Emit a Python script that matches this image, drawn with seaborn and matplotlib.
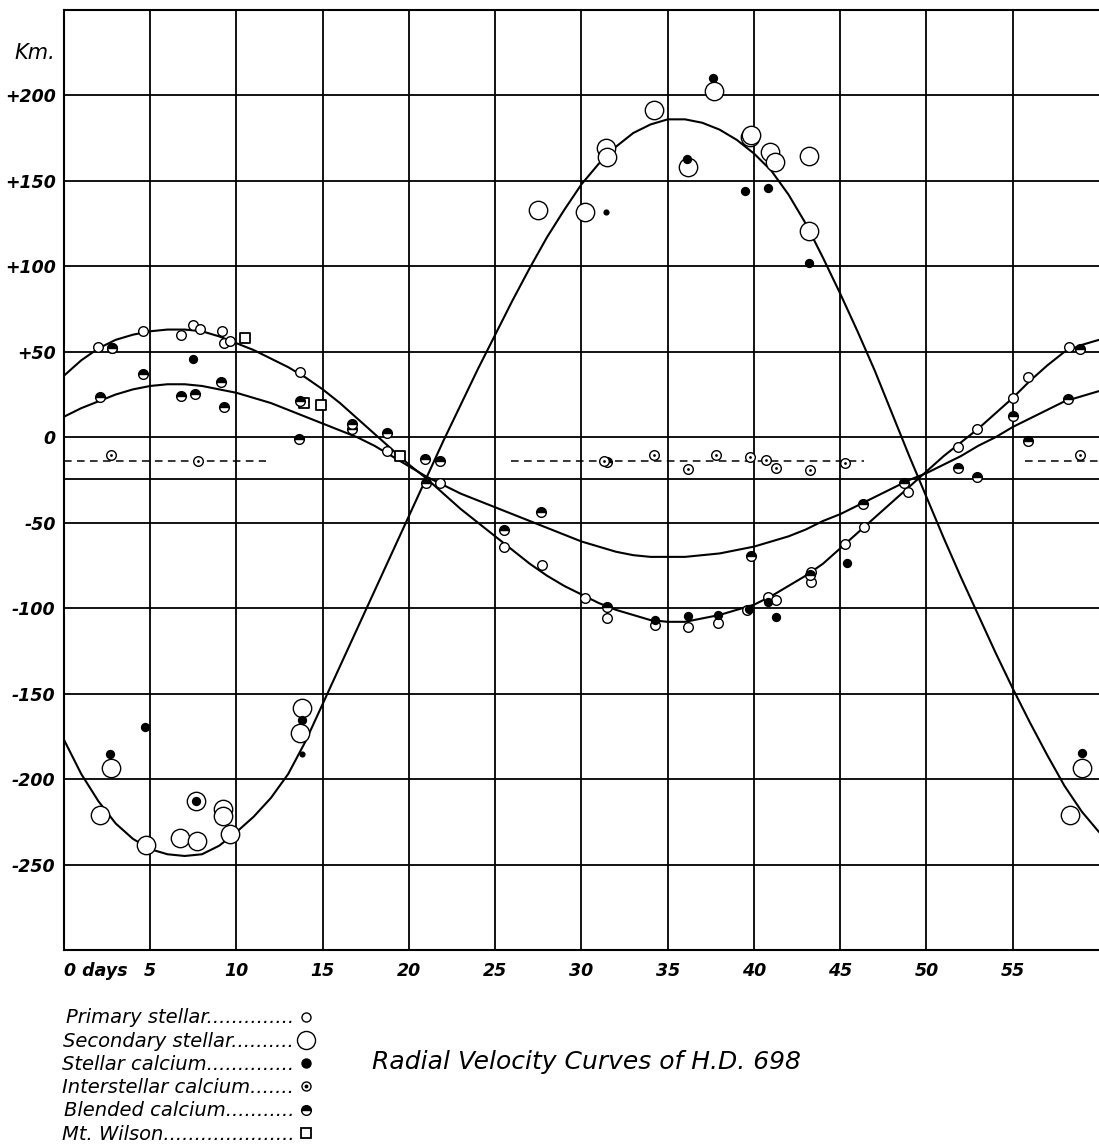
import numpy as np
import pandas as pd
import seaborn as sns
import matplotlib.pyplot as plt
from matplotlib.lines import Line2D

# fitted orbit curves at one-day steps
curve_days = list(range(0, 61))
secondary_curve = [-177, -197, -213, -226, -235, -241, -244, -245, -244, -239,
                   -231, -222, -211, -197, -178, -156, -134, -112, -90, -68,
                   -46, -24, -2, 19, 40, 60, 80, 99, 117, 133,
                   148, 160, 170, 178, 183, 186, 186, 184, 180, 174,
                   166, 156, 142, 125, 105, 84, 62, 39, 14, -11,
                   -35, -59, -82, -104, -126, -147, -167, -186, -204, -219, -231]
primary_curve = [36, 45, 52, 57, 60, 62, 63, 63, 62, 59,
                 55, 51, 46, 41, 35, 28, 20, 11, 2, -7,
                 -16, -24, -33, -42, -50, -58, -66, -74, -81, -87,
                 -92, -97, -101, -104, -107, -108, -108, -106, -104, -101,
                 -98, -93, -87, -81, -74, -65, -56, -47, -38, -29,
                 -20, -11, -3, 5, 14, 23, 33, 42, 50, 54, 57]
calcium_curve = [12, 17, 21, 25, 28, 30, 31, 31, 30, 28,
                 26, 23, 20, 16, 12, 8, 4, 0, -5, -11,
                 -17, -23, -28, -33, -37, -41, -45, -49, -53, -57,
                 -61, -64, -67, -69, -70, -70, -70, -69, -68, -66,
                 -64, -61, -58, -54, -49, -45, -40, -35, -30, -25,
                 -21, -16, -11, -5, 0, 6, 11, 16, 21, 24, 27]

systemic_velocity = -24.5
interstellar_mean = -13.9
dash_starts = [0, 25.9, 55.7]
dash_ends = [11.7, 46.4, 60]

# observations: day, km/sec
primary_days = [2.0, 2.8, 4.6, 6.8, 7.5, 7.9, 9.15, 9.3, 9.6, 13.7, 18.75, 21.8,
                25.5, 27.7, 30.2, 31.5, 34.25, 36.2, 37.9, 39.6, 40.8, 41.3,
                43.3, 43.3, 45.3, 46.35, 48.9, 51.8, 52.9, 55.0, 55.9, 58.25]
primary_vel = [52.7, 52.0, 62.0, 59.7, 65.6, 63.6, 61.9, 54.9, 56.4, 37.9, -8.0, -27.0,
               -64.2, -75.0, -93.9, -106.0, -110.0, -111.0, -108.5, -101.0, -93.3, -95.4,
               -84.7, -78.9, -62.6, -52.5, -32.0, -5.7, 5.1, 23.2, 35.0, 52.9]

secondary_days = [2.1, 2.7, 4.74, 6.7, 7.7, 7.67, 9.2, 9.2, 9.6, 13.7, 13.8,
                  27.5, 30.2, 31.4, 31.5, 34.2, 36.2, 37.7, 39.75, 39.85, 40.9, 41.2,
                  43.2, 43.2, 58.3, 59.0]
secondary_vel = [-221.0, -193.4, -238.3, -234.4, -236.0, -213.0, -217.8, -221.7, -232.4, -172.9, -158.3,
                 133.0, 132.0, 169.0, 164.0, 191.6, 158.0, 202.8, 175.5, 176.8, 166.7, 161.2,
                 164.7, 120.4, -221.3, -193.4]

stellar_ca_days = [2.66, 4.68, 7.67, 7.5, 13.8, 36.1, 37.6, 39.5, 40.8, 43.2,
                   34.25, 36.2, 37.9, 39.7, 40.8, 41.3, 45.4, 59.0]
stellar_ca_vel = [-185.2, -169.4, -213.0, 46.0, -165.7, 163.0, 210.0, 144.0, 146.0, 101.9,
                  -107.0, -104.6, -104.2, -100.3, -96.4, -105.0, -73.4, -184.6]
faint_ca_days = [31.4, 13.8]
faint_ca_vel = [132.0, -185.2]

interstellar_days = [2.75, 7.76, 31.3, 34.2, 36.2, 37.8, 39.75, 40.7, 41.3, 43.25, 45.3, 58.9]
interstellar_vel = [-10.5, -13.9, -14.0, -10.5, -18.7, -10.5, -11.5, -13.3, -18.2, -19.1, -14.8, -10.3]

blended_days = [2.1, 2.8, 4.6, 6.8, 7.6, 9.1, 9.3, 13.6, 13.7, 16.7, 16.7, 18.75,
                20.9, 21.8, 21.0, 25.5, 27.65, 31.5, 31.5, 39.8, 43.25, 46.3, 48.7,
                51.8, 52.9, 55.0, 55.9, 58.2, 58.9]
blended_vel = [23.6, 52.0, 36.9, 24.2, 25.2, 32.4, 17.4, -1.2, 21.3, 7.6, 4.7, 2.7,
               -12.5, -13.9, -26.5, -54.4, -43.5, -99.5, -14.4, -69.5, -80.8, -39.2, -27.0,
               -18.2, -23.0, 12.5, -2.2, 22.2, 51.5]

wilson_days = [10.5, 13.9, 14.9, 19.5]
wilson_vel = [58.0, 20.3, 18.7, -10.9]

x_ticks = list(range(0, 60, 5))
x_tick_labels = ["0 days"] + [str(d) for d in x_ticks[1:]]
y_ticks = list(range(-250, 201, 50))
y_tick_labels = [("+%d" % v if v > 0 else "%d" % v) for v in y_ticks]

legend_labels = ["Primary stellar" + "." * 14,
                 "Secondary stellar" + "." * 10,
                 "Stellar calcium" + "." * 14,
                 "Interstellar calcium" + "." * 7,
                 "Blended calcium" + "." * 11,
                 "Mt. Wilson" + "." * 21]

sns.set_theme(style="white")
plt.rcParams["font.family"] = ["DejaVu Sans"]
plt.rcParams["text.color"] = "black"

fig = plt.figure(figsize=(10.99, 11.44), dpi=100)
ax = fig.add_axes([0.0582, 0.1696, 0.9418, 0.8217])
ax.set_xlim(0, 60)
ax.set_ylim(-300, 250)

ax.set_xticks(x_ticks)
ax.set_xticklabels(x_tick_labels, fontsize=12.5, fontweight="bold", style="italic")
ax.get_xticklabels()[0].set_ha("left")
ax.set_yticks(y_ticks)
ax.set_yticklabels(y_tick_labels, fontsize=12.5, fontweight="bold", style="italic")
ax.tick_params(axis="x", length=0, pad=9, colors="black")
ax.tick_params(axis="y", length=0, pad=6, colors="black")
ax.grid(True, color="black", lw=1.3)
ax.set_axisbelow(True)
for side in ["left", "top", "bottom"]:
    ax.spines[side].set_color("black")
    ax.spines[side].set_linewidth(1.5)
ax.spines["right"].set_visible(False)

ax.axhline(systemic_velocity, color="black", lw=1.3, zorder=1)
ax.hlines([interstellar_mean] * len(dash_starts), dash_starts, dash_ends, colors="black",
          linestyles=(0, (5, 3.5)), lw=1.1, zorder=1)

curves = pd.DataFrame({
    "day": curve_days * 3,
    "velocity": secondary_curve + primary_curve + calcium_curve,
    "curve": ["secondary"] * 61 + ["primary"] * 61 + ["calcium"] * 61,
})
sns.lineplot(data=curves, x="day", y="velocity", units="curve", estimator=None,
             sort=False, color="black", lw=1.5, ax=ax, zorder=2, legend=False)

sns.scatterplot(x=secondary_days, y=secondary_vel, marker="o", s=175, facecolor="white",
                edgecolor="black", linewidth=1.0, ax=ax, zorder=3)
sns.scatterplot(x=primary_days, y=primary_vel, marker="o", s=48, facecolor="white",
                edgecolor="black", linewidth=1.0, ax=ax, zorder=4)
sns.scatterplot(x=wilson_days, y=wilson_vel, marker="s", s=60, facecolor="white",
                edgecolor="black", linewidth=1.3, ax=ax, zorder=4)
ax.plot(blended_days, blended_vel, ls="none", marker="o", ms=7, fillstyle="top",
        mfc="black", mfcalt="white", mec="black", mew=1.0, zorder=5)
sns.scatterplot(x=interstellar_days, y=interstellar_vel, marker="o", s=48, facecolor="white",
                edgecolor="black", linewidth=1.0, ax=ax, zorder=5)
sns.scatterplot(x=interstellar_days, y=interstellar_vel, marker="o", s=4, color="black",
                linewidth=0, ax=ax, zorder=6)
sns.scatterplot(x=stellar_ca_days, y=stellar_ca_vel, marker="o", s=45, color="black",
                linewidth=0, ax=ax, zorder=6)
sns.scatterplot(x=faint_ca_days, y=faint_ca_vel, marker="o", s=20, color="black",
                linewidth=0, ax=ax, zorder=6)
ax.set_xlabel("")
ax.set_ylabel("")

ax.annotate("Km.", xy=(0, 225), xycoords=("axes fraction", "data"), xytext=(-6, 0),
            textcoords="offset points", ha="right", va="center", fontsize=15, style="italic",
            color="black")

h_primary = Line2D([], [], ls="none", marker="o", ms=6.5, mfc="white", mec="black", mew=1.0)
h_secondary = Line2D([], [], ls="none", marker="o", ms=13, mfc="white", mec="black", mew=1.0)
h_stellar = Line2D([], [], ls="none", marker="o", ms=6.5, mfc="black", mec="black")
h_inter = (Line2D([], [], ls="none", marker="o", ms=6.5, mfc="white", mec="black", mew=1.0),
           Line2D([], [], ls="none", marker="o", ms=1.8, mfc="black", mec="black"))
h_blend = Line2D([], [], ls="none", marker="o", ms=7, fillstyle="top", mfc="black",
                 mfcalt="white", mec="black", mew=1.0)
h_wilson = Line2D([], [], ls="none", marker="s", ms=7.5, mfc="white", mec="black", mew=1.3)

fig.legend([h_primary, h_secondary, h_stellar, h_inter, h_blend, h_wilson], legend_labels,
           loc="upper left", bbox_to_anchor=(0.056, 0.1186), frameon=False, markerfirst=False,
           prop={"size": 14, "style": "italic"}, labelcolor="black", handlelength=1.0,
           handletextpad=0.1, labelspacing=0.22, borderpad=0, borderaxespad=0)

fig.text(0.534, 0.0717, "Radial Velocity Curves of H.D. 698", ha="center", va="center",
         fontsize=18, style="italic", color="black")

fig.savefig("out.png", dpi=100)
